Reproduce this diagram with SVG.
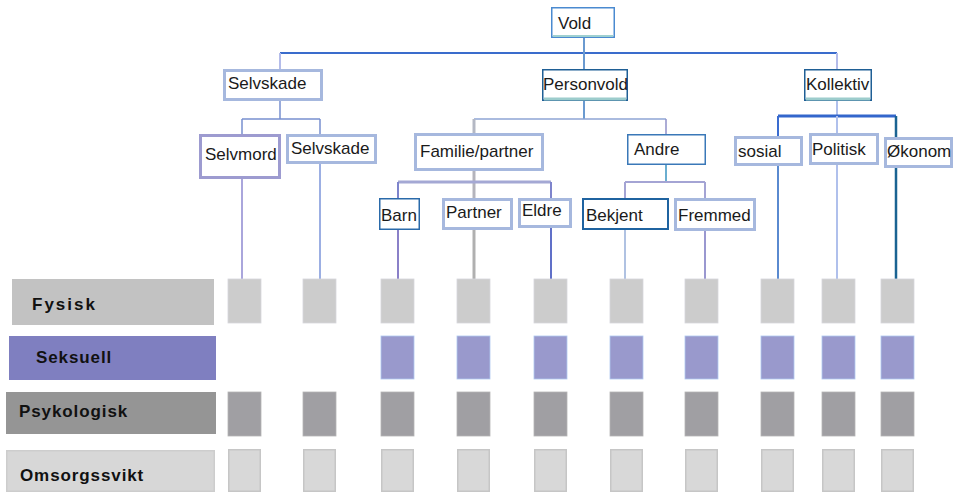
<svg xmlns="http://www.w3.org/2000/svg" width="955" height="495" viewBox="0 0 955 495">
<style>
.t{font-family:"Liberation Sans",Arial,sans-serif;font-size:17px;fill:#1a1a1a}
.lb{font-family:"Liberation Sans",Arial,sans-serif;font-size:17px;font-weight:bold;fill:#111;letter-spacing:0.9px}
.bx{fill:#fff}
.soft{stroke:#a6b8de;stroke-width:3}
.dark{stroke:#1f5f95;stroke-width:1.5}
.c{fill:none;stroke-linecap:butt}
.fy{fill:#cccccc;stroke:#d6d6dc;stroke-width:0.8}
.se{fill:#9999cc;stroke:#b0c8f0;stroke-width:0.8}
.ps{fill:#a09fa3;stroke:#b4b4b4;stroke-width:0.8}
.om{fill:#d8d8d8;stroke:#c6c6c6;stroke-width:1.5}
</style>
<rect width="955" height="495" fill="#fff"/>
<g id="connectors" class="c">
<path d="M280 53H837" stroke="#3a6ccc" stroke-width="2"/>
<path d="M584 38V69" stroke="#6a9ad0" stroke-width="2"/>
<path d="M280 53V69M837 53V69" stroke="#b4bcea" stroke-width="2"/>
<path d="M280 101V119M242 119H320M242 119V134M320 119V134" stroke="#7890d0" stroke-width="1.5"/>
<path d="M242 179V279" stroke="#aaa6dc" stroke-width="2"/>
<path d="M320 164V279" stroke="#5a7ad0" stroke-width="1.2"/>
<path d="M584 101V119" stroke="#6a9ad0" stroke-width="2"/>
<path d="M474 119H666" stroke="#8ea4d4" stroke-width="1.5"/>
<path d="M474 119V133" stroke="#b4b8c4" stroke-width="3"/>
<path d="M666 119V134" stroke="#9090c8" stroke-width="1.5"/>
<path d="M474 171V198" stroke="#b4b4bc" stroke-width="3"/>
<path d="M398 182H551" stroke="#a4a8d4" stroke-width="3"/>
<path d="M398 182V198M551 182V198" stroke="#7e84cc" stroke-width="2"/>
<path d="M398 230V279" stroke="#8a80c8" stroke-width="2"/>
<path d="M474 230V279" stroke="#b0b0b0" stroke-width="3"/>
<path d="M551 228V279" stroke="#6070c8" stroke-width="2"/>
<path d="M666 165V182" stroke="#6aaed0" stroke-width="2"/>
<path d="M625 182H705M625 182V198M705 182V198" stroke="#a4a4d4" stroke-width="2"/>
<path d="M625 230V279" stroke="#b0c2e2" stroke-width="2"/>
<path d="M705 231V279" stroke="#9a98d0" stroke-width="2"/>
<path d="M837 101V116" stroke="#b0c0ec" stroke-width="2"/>
<path d="M778 116H896" stroke="#3366cc" stroke-width="3"/>
<path d="M778 116V136" stroke="#3a6cd0" stroke-width="2"/>
<path d="M837 116V133" stroke="#b0c0ec" stroke-width="2"/>
<path d="M778 166V279" stroke="#5a8ad0" stroke-width="2"/>
<path d="M837 165V279" stroke="#b0c0ec" stroke-width="2"/>
<path d="M896 116V137M896 168V279" stroke="#1a6392" stroke-width="2.5"/>
</g>
<g id="vold"><rect class="bx" x="551.75" y="7.75" width="62.5" height="29.5" stroke="#4a8ad0" stroke-width="1.5"/><path d="M553 36H613" stroke="#9fd0d0" stroke-width="2"/><text class="t" x="558" y="29">Vold</text></g>
<g id="selvskade"><rect class="bx soft" x="224.5" y="70.5" width="97" height="29"/><text class="t" x="228" y="89">Selvskade</text></g>
<g id="personvold"><rect class="bx dark" x="542.75" y="69.75" width="84.5" height="30.5"/><path d="M544 99H626" stroke="#9ccccc" stroke-width="3"/><text class="t" x="543" y="90">Personvold</text></g>
<g id="kollektiv"><rect class="bx dark" x="804.75" y="69.75" width="66.5" height="30.5"/><path d="M806 99H870" stroke="#9ccccc" stroke-width="3"/><text class="t" x="806" y="90">Kollektiv</text></g>
<g id="selvmord"><rect class="bx" x="200.5" y="135.5" width="79" height="42" stroke="#9d9bd0" stroke-width="3"/><text class="t" x="205" y="160">Selvmord</text></g>
<g id="selvskade2"><rect class="bx soft" x="287.5" y="135.5" width="88" height="27"/><text class="t" x="291" y="154">Selvskade</text></g>
<g id="familie"><rect class="bx soft" x="415.5" y="134.5" width="127" height="35"/><text class="t" x="420" y="157">Familie/partner</text></g>
<g id="barn"><rect class="bx" x="379.75" y="198.75" width="39.5" height="30.5" stroke="#2a6aaa" stroke-width="1.5"/><text class="t" x="381" y="221">Barn</text></g>
<g id="partner"><rect class="bx soft" x="443.5" y="199.5" width="68" height="29"/><text class="t" x="446" y="218">Partner</text></g>
<g id="eldre"><rect class="bx soft" x="519.5" y="199.5" width="51" height="27"/><text class="t" x="522" y="216">Eldre</text></g>
<g id="andre"><rect class="bx" x="627.75" y="134.75" width="77.5" height="29.5" stroke="#3a78b8" stroke-width="1.5"/><text class="t" x="634" y="155">Andre</text></g>
<g id="bekjent"><rect class="bx" x="583" y="199" width="85" height="30" stroke="#1f63a0" stroke-width="2"/><text class="t" x="586" y="221">Bekjent</text></g>
<g id="fremmed"><rect class="bx soft" x="675.5" y="199.5" width="79" height="30"/><text class="t" x="678" y="221">Fremmed</text></g>
<g id="sosial"><rect class="bx soft" x="735.5" y="137.5" width="66" height="27"/><text class="t" x="738" y="157">sosial</text></g>
<g id="politisk"><rect class="bx soft" x="810.5" y="134.5" width="67" height="29"/><text class="t" x="812" y="155">Politisk</text></g>
<g id="okonom"><rect class="bx soft" x="885.5" y="138.5" width="66" height="28"/><text class="t" x="887" y="157">Økonom</text></g>
<g id="row-fysisk">
<rect x="12" y="279" width="202" height="46" fill="#c2c2c2"/>
<text class="lb" x="32" y="310" style="letter-spacing:2px">Fysisk</text>
<rect class="fy" x="228" y="279" width="33" height="44"/><rect class="fy" x="303" y="279" width="33" height="44"/><rect class="fy" x="381" y="279" width="33" height="44"/><rect class="fy" x="457" y="279" width="33" height="44"/><rect class="fy" x="534" y="279" width="33" height="44"/><rect class="fy" x="610" y="279" width="33" height="44"/><rect class="fy" x="685" y="279" width="33" height="44"/><rect class="fy" x="761" y="279" width="33" height="44"/><rect class="fy" x="822" y="279" width="33" height="44"/><rect class="fy" x="881" y="279" width="33" height="44"/>
</g>
<g id="row-seksuell">
<rect x="9" y="336" width="207" height="44" fill="#7f7fc0"/>
<text class="lb" x="36" y="363">Seksuell</text>
<rect class="se" x="381" y="336" width="33" height="43"/><rect class="se" x="457" y="336" width="33" height="43"/><rect class="se" x="534" y="336" width="33" height="43"/><rect class="se" x="610" y="336" width="33" height="43"/><rect class="se" x="685" y="336" width="33" height="43"/><rect class="se" x="761" y="336" width="33" height="43"/><rect class="se" x="822" y="336" width="33" height="43"/><rect class="se" x="881" y="336" width="33" height="43"/>
</g>
<g id="row-psykologisk">
<rect x="6" y="392" width="210" height="42" fill="#959595"/>
<text class="lb" x="19" y="417">Psykologisk</text>
<rect class="ps" x="228" y="392" width="33" height="44"/><rect class="ps" x="303" y="392" width="33" height="44"/><rect class="ps" x="381" y="392" width="33" height="44"/><rect class="ps" x="457" y="392" width="33" height="44"/><rect class="ps" x="534" y="392" width="33" height="44"/><rect class="ps" x="610" y="392" width="33" height="44"/><rect class="ps" x="685" y="392" width="33" height="44"/><rect class="ps" x="761" y="392" width="33" height="44"/><rect class="ps" x="822" y="392" width="33" height="44"/><rect class="ps" x="881" y="392" width="33" height="44"/>
</g>
<g id="row-omsorgssvikt">
<rect x="6.75" y="450.75" width="207.5" height="40.5" fill="#d7d7d7" stroke="#cdcdcd" stroke-width="1.5"/>
<text class="lb" x="20" y="481">Omsorgssvikt</text>
<rect class="om" x="228.75" y="449.75" width="31.5" height="41.5"/><rect class="om" x="303.75" y="449.75" width="31.5" height="41.5"/><rect class="om" x="381.75" y="449.75" width="31.5" height="41.5"/><rect class="om" x="457.75" y="449.75" width="31.5" height="41.5"/><rect class="om" x="534.75" y="449.75" width="31.5" height="41.5"/><rect class="om" x="610.75" y="449.75" width="31.5" height="41.5"/><rect class="om" x="685.75" y="449.75" width="31.5" height="41.5"/><rect class="om" x="761.75" y="449.75" width="31.5" height="41.5"/><rect class="om" x="822.75" y="449.75" width="31.5" height="41.5"/><rect class="om" x="881.75" y="449.75" width="31.5" height="41.5"/>
</g>
</svg>
